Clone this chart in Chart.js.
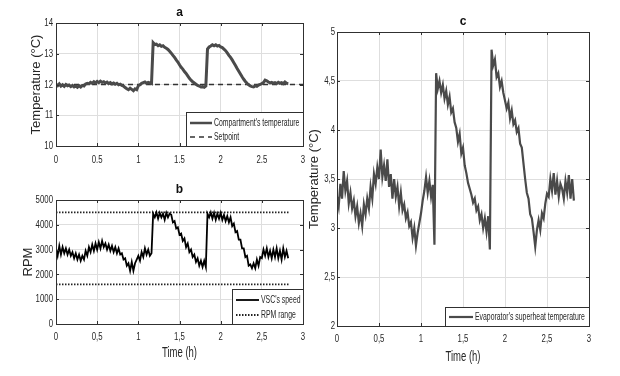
<!DOCTYPE html>
<html>
<head>
<meta charset="utf-8">
<script src="https://cdn.jsdelivr.net/npm/chart.js@4"></script>
<style>
  body { margin: 0; background: #fff; }
  #wrap { position: relative; width: 620px; height: 376px; overflow: hidden; background: #fff; }
  canvas { position: absolute; }
</style>
</head>
<body>
<div id="wrap">
  <canvas id="chartA" width="310" height="176" style="left:0;top:0"></canvas>
  <canvas id="chartB" width="310" height="200" style="left:0;top:176px"></canvas>
  <canvas id="chartC" width="320" height="376" style="left:300px;top:0"></canvas>
</div>
<script>
// sample times (h), one sample every 0.02 h
const time = [
  0.00, 0.02, 0.04, 0.06, 0.08, 0.10, 0.12, 0.14, 0.16, 0.18,
  0.20, 0.22, 0.24, 0.26, 0.28, 0.30, 0.32, 0.34, 0.36, 0.38,
  0.40, 0.42, 0.44, 0.46, 0.48, 0.50, 0.52, 0.54, 0.56, 0.58,
  0.60, 0.62, 0.64, 0.66, 0.68, 0.70, 0.72, 0.74, 0.76, 0.78,
  0.80, 0.82, 0.84, 0.86, 0.88, 0.90, 0.92, 0.94, 0.96, 0.98,
  1.00, 1.02, 1.04, 1.06, 1.08, 1.10, 1.12, 1.14, 1.16, 1.18,
  1.20, 1.22, 1.24, 1.26, 1.28, 1.30, 1.32, 1.34, 1.36, 1.38,
  1.40, 1.42, 1.44, 1.46, 1.48, 1.50, 1.52, 1.54, 1.56, 1.58,
  1.60, 1.62, 1.64, 1.66, 1.68, 1.70, 1.72, 1.74, 1.76, 1.78,
  1.80, 1.82, 1.84, 1.86, 1.88, 1.90, 1.92, 1.94, 1.96, 1.98,
  2.00, 2.02, 2.04, 2.06, 2.08, 2.10, 2.12, 2.14, 2.16, 2.18,
  2.20, 2.22, 2.24, 2.26, 2.28, 2.30, 2.32, 2.34, 2.36, 2.38,
  2.40, 2.42, 2.44, 2.46, 2.48, 2.50, 2.52, 2.54, 2.56, 2.58,
  2.60, 2.62, 2.64, 2.66, 2.68, 2.70, 2.72, 2.74, 2.76, 2.78,
  2.80, 2.82
];

// a: compartment temperature (°C)
const compartmentTemp = [
  12.00, 11.96, 12.02, 11.95, 11.99, 11.94, 12.00, 11.96, 11.98, 11.93,
  11.97, 11.92, 11.95, 11.91, 11.96, 11.92, 11.97, 11.95, 12.02, 12.04,
  12.02, 12.07, 12.04, 12.09, 12.05, 12.10, 12.06, 12.11, 12.07, 12.09,
  12.05, 12.08, 12.03, 12.06, 12.02, 12.05, 12.01, 12.04, 11.99, 12.01,
  11.97, 11.95, 11.90, 11.86, 11.83, 11.88, 11.84, 11.80, 11.86, 11.83,
  11.96, 11.99, 12.04, 12.06, 12.08, 12.04, 12.07, 12.05, 12.03, 13.36,
  13.30, 13.31, 13.26, 13.29, 13.24, 13.26, 13.21, 13.18, 13.14, 13.08,
  13.02, 12.95, 12.88, 12.80, 12.73, 12.64, 12.56, 12.50, 12.42, 12.36,
  12.28, 12.20, 12.14, 12.09, 12.05, 12.01, 11.97, 11.95, 11.92, 11.93,
  11.91, 11.95, 13.15, 13.22, 13.25, 13.29, 13.26, 13.29, 13.25, 13.27,
  13.22, 13.20, 13.15, 13.10, 13.03, 12.95, 12.88, 12.80, 12.71, 12.62,
  12.52, 12.43, 12.34, 12.25, 12.17, 12.10, 12.04, 11.99, 11.95, 11.93,
  11.92, 11.96, 11.94, 11.98, 12.00, 12.03, 12.06, 12.14, 12.12, 12.08,
  12.05, 12.07, 12.04, 12.06, 12.03, 12.07, 12.04, 12.06, 12.03, 12.08,
  12.04, 12.02
];
const setpointTime = [0, 3];
const setpointTemp = [12, 12];

// b: VSC speed (RPM)
const vscSpeed = [
  3050, 2750, 3150, 2800, 3100, 2850, 3050, 2800, 3000, 2750,
  2900, 2650, 2850, 2600, 2800, 2550, 2750, 2600, 2950, 2750,
  3100, 2900, 3200, 2950, 3250, 3000, 3300, 3050, 3350, 3100,
  3250, 3000, 3200, 2950, 3150, 2900, 3100, 2850, 3050, 2800,
  2850, 2600, 2650, 2350, 2450, 2150, 2500, 2150, 2450, 2600,
  2750, 2550, 2900, 2700, 3050, 2800, 3000, 2750, 2850, 4450,
  4300, 4500, 4250, 4480, 4300, 4450, 4200, 4480, 4300, 4450,
  4400, 4100, 4150, 3850, 3900, 3600, 3650, 3350, 3450, 3100,
  3250, 2900, 3000, 2700, 2800, 2500, 2650, 2350, 2550, 2300,
  2550, 2300, 4450, 4300, 4500, 4250, 4480, 4200, 4450, 4250,
  4480, 4200, 4400, 4150, 4350, 4100, 4300, 3950, 4050, 3700,
  3750, 3400, 3400, 3050, 3050, 2700, 2750, 2350, 2400, 2250,
  2450, 2250, 2600, 2350, 2700, 2650, 3000, 2750, 3050, 2700,
  2950, 2650, 3000, 2700, 3050, 2650, 2950, 2600, 3050, 2700,
  2950, 2650
];
const rpmRangeTime = [0, 2.83];
const rpmUpper = [4500, 4500];
const rpmLower = [1600, 1600];

// c: evaporator superheat temperature (°C)
const superheatTemp = [
  3.32, 3.22, 3.45, 3.30, 3.58, 3.38, 3.48, 3.25, 3.36, 3.20,
  3.28, 3.12, 3.22, 3.05, 3.15, 3.02, 3.24, 3.14, 3.30, 3.20,
  3.42, 3.30, 3.55, 3.45, 3.62, 3.50, 3.80, 3.52, 3.64, 3.48,
  3.70, 3.42, 3.55, 3.30, 3.50, 3.32, 3.42, 3.22, 3.36, 3.18,
  3.24, 3.10, 3.16, 3.02, 3.06, 2.90, 3.00, 2.82, 2.95, 3.05,
  3.15, 3.28, 3.38, 3.52, 3.36, 3.48, 3.32, 3.44, 2.83, 4.58,
  4.42, 4.50, 4.38, 4.46, 4.32, 4.40, 4.26, 4.34, 4.18, 4.22,
  4.08, 4.02, 3.88, 3.96, 3.76, 3.82, 3.64, 3.56, 3.46, 3.40,
  3.34, 3.26, 3.30, 3.18, 3.22, 3.08, 3.14, 3.00, 3.10, 2.96,
  3.12, 2.78, 4.82, 4.66, 4.72, 4.54, 4.58, 4.44, 4.50, 4.38,
  4.30, 4.22, 4.28, 4.12, 4.20, 4.06, 4.10, 3.98, 4.02, 3.86,
  3.82, 3.66, 3.50, 3.36, 3.30, 3.14, 3.10, 2.96, 2.81, 2.98,
  3.08, 2.98, 3.15, 3.10, 3.25, 3.35, 3.32, 3.50, 3.38, 3.56,
  3.34, 3.48, 3.32, 3.45, 3.40, 3.30, 3.48, 3.36, 3.54, 3.30,
  3.50, 3.28
];

// tick labels
const xTicksDot = ["0", "0.5", "1", "1.5", "2", "2.5", "3"];
const xTicksComma = ["0", "0,5", "1", "1,5", "2", "2,5", "3"];
const yTicksA = ["10", "11", "12", "13", "14"];
const yTicksB = ["0", "1000", "2000", "3000", "4000", "5000"];
const yTicksC = ["2", "2,5", "3", "3,5", "4", "4,5", "5"];

const FONT = "'Liberation Sans', Arial, sans-serif";
const TXT = "#262626";
const GRID = "#dedede";
const GRAY_LINE = "#4a4a4a";
const SQUEEZE = 0.68;  // the figure's text is horizontally condensed

const pts = (xs, ys) => xs.map((x, i) => ({ x: x, y: ys[i] }));

function condensed(ctx, text, x, y, align, font, sx) {
  ctx.save();
  ctx.font = font;
  ctx.textAlign = align;
  ctx.textBaseline = "middle";
  ctx.fillStyle = TXT;
  ctx.translate(x, y);
  ctx.scale(sx, 1);
  ctx.fillText(text, 0, 0);
  ctx.restore();
}

// box around the plot + small inward ticks, tick labels, legend box and panel title
const panelPlugin = {
  id: "panel",
  afterDatasetsDraw(chart, args, opts) {
    const ctx = chart.ctx;
    const a = chart.chartArea;
    const sx = chart.scales.x, sy = chart.scales.y;
    ctx.save();
    ctx.strokeStyle = "#303030";
    ctx.lineWidth = 1;
    ctx.beginPath();
    sx.ticks.forEach(t => {
      const p = Math.round(sx.getPixelForValue(t.value)) + 0.5;
      ctx.moveTo(p, a.bottom); ctx.lineTo(p, a.bottom - 3);
      ctx.moveTo(p, a.top); ctx.lineTo(p, a.top + 3);
    });
    sy.ticks.forEach(t => {
      const p = Math.round(sy.getPixelForValue(t.value)) + 0.5;
      ctx.moveTo(a.left, p); ctx.lineTo(a.left + 3, p);
      ctx.moveTo(a.right, p); ctx.lineTo(a.right - 3, p);
    });
    ctx.stroke();
    ctx.strokeRect(Math.round(a.left) + 0.5, Math.round(a.top) + 0.5,
      Math.round(a.right - a.left), Math.round(a.bottom - a.top));

    // tick labels from the scales' own ticks
    const tickFont = "11.5px " + FONT;
    sx.ticks.forEach((t, i) => {
      condensed(ctx, opts.xLabels[i], sx.getPixelForValue(t.value), opts.xLabelY, "center", tickFont, SQUEEZE);
    });
    sy.ticks.forEach((t, i) => {
      condensed(ctx, opts.yLabels[i], opts.yLabelX, sy.getPixelForValue(t.value), "right", tickFont, SQUEEZE);
    });
    if (opts.xTitle) {
      condensed(ctx, opts.xTitle, (a.left + a.right) / 2, opts.xTitleY, "center", "14px " + FONT, 0.68);
    }

    // legend
    const lg = opts.legend;
    ctx.fillStyle = "#fff";
    ctx.fillRect(lg.x, lg.y, lg.w, lg.h);
    ctx.strokeStyle = "#303030";
    ctx.lineWidth = 1;
    ctx.strokeRect(lg.x + 0.5, lg.y + 0.5, lg.w, lg.h);
    lg.items.forEach(it => {
      const ds = chart.data.datasets[it.ds];
      ctx.beginPath();
      ctx.strokeStyle = ds.borderColor;
      ctx.lineWidth = Math.min(ds.borderWidth, 2.5);
      ctx.setLineDash(ds.borderDash || []);
      ctx.moveTo(lg.lineX0, it.y);
      ctx.lineTo(lg.lineX1, it.y);
      ctx.stroke();
      ctx.setLineDash([]);
      condensed(ctx, ds.label, lg.lineX1 + 2, it.y + 0.5, "left", "10.5px " + FONT, 0.655);
    });

    // panel title
    ctx.font = "bold 12px " + FONT;
    ctx.textAlign = "center";
    ctx.textBaseline = "middle";
    ctx.fillStyle = "#111";
    ctx.fillText(opts.title, (a.left + a.right) / 2, opts.titleY);
    ctx.restore();
  }
};

function xAxis(height) {
  return {
    type: "linear", min: 0, max: 3,
    ticks: { stepSize: 0.5, autoSkip: false, display: false },
    grid: { color: GRID, drawTicks: false },
    border: { display: false },
    afterFit: s => { s.height = height; }
  };
}

function yAxis(min, max, step, title, width, titlePad) {
  return {
    type: "linear", min: min, max: max,
    ticks: { stepSize: step, autoSkip: false, display: false },
    grid: { color: GRID, drawTicks: false },
    border: { display: false },
    title: {
      display: true, text: title, color: TXT,
      font: { family: FONT, size: 13 }, padding: { top: titlePad, bottom: 0 }
    },
    afterFit: s => { s.width = width; }
  };
}

function baseOptions(pad, scales, panel) {
  return {
    responsive: false,
    animation: false,
    layout: { padding: pad },
    scales: scales,
    plugins: { legend: { display: false }, tooltip: { enabled: false }, panel: panel },
    elements: { point: { radius: 0 }, line: { tension: 0 } }
  };
}

// chart a
new Chart(document.getElementById("chartA"), {
  type: "line",
  data: {
    datasets: [
      { label: "Compartment's temperature", data: pts(time, compartmentTemp),
        borderColor: GRAY_LINE, borderWidth: 3 },
      { label: "Setpoint", data: pts(setpointTime, setpointTemp),
        borderColor: "#333", borderWidth: 1.5, borderDash: [5, 4] }
    ]
  },
  options: baseOptions(
    { left: 0, right: 7, top: 23, bottom: 0 },
    { x: xAxis(30), y: yAxis(10, 14, 1, "Temperature (\u00b0C)", 56, 29) },
    { title: "a", titleY: 13, xLabels: xTicksDot, xLabelY: 160, yLabels: yTicksA, yLabelX: 53,
      legend: { x: 186, y: 112, w: 117, h: 34, lineX0: 190, lineX1: 212,
        items: [{ ds: 0, y: 123 }, { ds: 1, y: 137 }] } }
  ),
  plugins: [panelPlugin]
});

// chart b
new Chart(document.getElementById("chartB"), {
  type: "line",
  data: {
    datasets: [
      { label: "VSC's speed", data: pts(time, vscSpeed),
        borderColor: "#000", borderWidth: 1.8 },
      { label: "RPM range", data: pts(rpmRangeTime, rpmUpper),
        borderColor: "#222", borderWidth: 1.8, borderDash: [1.5, 1.5] },
      { label: "RPM range", data: pts(rpmRangeTime, rpmLower),
        borderColor: "#222", borderWidth: 1.8, borderDash: [1.5, 1.5] }
    ]
  },
  options: baseOptions(
    { left: 0, right: 7, top: 24, bottom: 0 },
    { x: xAxis(52), y: yAxis(0, 5000, 1000, "RPM", 56, 21) },
    { title: "b", titleY: 14, xLabels: xTicksComma, xLabelY: 161, yLabels: yTicksB, yLabelX: 53,
      xTitle: "Time (h)", xTitleY: 177,
      legend: { x: 232, y: 113, w: 71, h: 35, lineX0: 236, lineX1: 259,
        items: [{ ds: 0, y: 124 }, { ds: 1, y: 139 }] } }
  ),
  plugins: [panelPlugin]
});

// chart c
new Chart(document.getElementById("chartC"), {
  type: "line",
  data: {
    datasets: [
      { label: "Evaporator's superheat temperature", data: pts(time, superheatTemp),
        borderColor: GRAY_LINE, borderWidth: 2.2 }
    ]
  },
  options: baseOptions(
    { left: 0, right: 31, top: 32, bottom: 0 },
    { x: xAxis(50), y: yAxis(2, 5, 0.5, "Temperature (\u00b0C)", 37, 7) },
    { title: "c", titleY: 22, xLabels: xTicksComma, xLabelY: 339, yLabels: yTicksC, yLabelX: 35,
      xTitle: "Time (h)", xTitleY: 357,
      legend: { x: 145, y: 307, w: 144, h: 19, lineX0: 149, lineX1: 173,
        items: [{ ds: 0, y: 317 }] } }
  ),
  plugins: [panelPlugin]
});
</script>
</body>
</html>
